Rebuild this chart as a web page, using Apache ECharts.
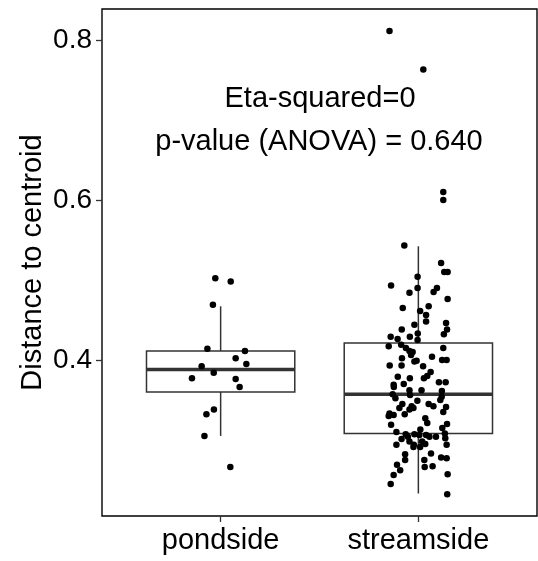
<!DOCTYPE html>
<html><head><meta charset="utf-8">
<script src="https://cdn.jsdelivr.net/npm/echarts@6/dist/echarts.min.js"></script>
<style>html,body{margin:0;padding:0;background:#fff}#c{width:538px;height:561px}</style>
</head><body><div id="c"></div>
<script>
const categories = ['pondside', 'streamside'];
const yTicks = [0.4, 0.6, 0.8];
const yTitle = 'Distance to centroid';
const annotationLines = ['Eta-squared=0', 'p-value (ANOVA) = 0.640'];

// box stats: [lower whisker, Q1, median, Q3, upper whisker]
const boxPondside = [0.306, 0.361, 0.389, 0.412, 0.468];
const boxStreamside = [0.234, 0.309, 0.358, 0.422, 0.543];

const pondsideValues = [0.503, 0.499, 0.470, 0.415, 0.412, 0.403, 0.396, 0.393, 0.385, 0.378, 0.377, 0.367, 0.339, 0.333, 0.306, 0.267];
const pondsideJitter = [-0.027, 0.051, -0.039, -0.067, 0.123, 0.076, 0.130, -0.096, -0.035, -0.145, 0.076, 0.096, -0.034, -0.072, -0.082, 0.049];

const streamsideValues = [
  0.812, 0.764, 0.611, 0.601, 0.544, 0.522, 0.511, 0.511, 0.505, 0.494,
  0.491, 0.485, 0.486, 0.491, 0.477, 0.466, 0.468, 0.462, 0.457, 0.449,
  0.447, 0.439, 0.433, 0.445, 0.439, 0.434, 0.430, 0.427, 0.430, 0.426,
  0.418, 0.420, 0.416, 0.412, 0.407, 0.411, 0.403, 0.399, 0.400, 0.405,
  0.416, 0.401, 0.401, 0.394, 0.394, 0.393, 0.380, 0.378, 0.378, 0.381,
  0.386, 0.373, 0.373, 0.370, 0.367, 0.371, 0.363, 0.357, 0.363, 0.362,
  0.355, 0.358, 0.353, 0.350, 0.351, 0.346, 0.341, 0.346, 0.343, 0.343,
  0.339, 0.341, 0.334, 0.332, 0.331, 0.333, 0.342, 0.336, 0.328, 0.322,
  0.320, 0.321, 0.311, 0.314, 0.307, 0.308, 0.305, 0.308, 0.307, 0.305,
  0.305, 0.316, 0.309, 0.303, 0.295, 0.302, 0.299, 0.295, 0.292, 0.299,
  0.296, 0.292, 0.295, 0.276, 0.267, 0.284, 0.268, 0.283, 0.276, 0.279,
  0.278, 0.270, 0.263, 0.257, 0.258, 0.246, 0.233
];
const streamsideJitter = [
  -0.146, 0.025, 0.126, 0.126, -0.071, 0.115, 0.131, 0.148, -0.004, -0.138,
  -0.004, -0.045, 0.077, 0.094, 0.148, -0.079, 0.052, 0.009, 0.039, 0.039,
  0.140, 0.145, 0.129, -0.020, -0.084, -0.003, -0.140, -0.105, -0.043, -0.004,
  -0.150, -0.087, -0.063, -0.045, -0.037, -0.029, -0.083, -0.020, -0.009, 0.069,
  0.126, 0.120, 0.143, -0.145, -0.085, 0.024, -0.104, -0.043, 0.028, 0.045,
  0.062, 0.104, 0.138, -0.125, -0.124, -0.074, -0.045, -0.042, 0.016, 0.119,
  0.118, -0.130, -0.116, -0.005, 0.111, -0.081, -0.096, 0.052, 0.076, -0.034,
  -0.045, -0.025, -0.146, -0.125, -0.150, -0.069, 0.140, 0.126, 0.035, 0.045,
  -0.138, 0.145, -0.111, 0.010, 0.005, -0.064, -0.053, -0.020, 0.039, 0.056,
  0.089, 0.121, 0.134, 0.136, -0.111, -0.085, -0.045, -0.023, -0.025, 0.019,
  0.035, 0.009, 0.143, 0.030, 0.032, 0.064, 0.072, -0.067, -0.067, 0.115,
  0.143, -0.108, -0.092, -0.125, 0.148, -0.140, 0.146
];

const FONT = "'Liberation Sans', Arial, sans-serif";
const boxData = [[1].concat(boxPondside), [2].concat(boxStreamside)];
const pointData = [];
pondsideValues.forEach((v, i) => pointData.push([1 + pondsideJitter[i], v]));
streamsideValues.forEach((v, i) => pointData.push([2 + streamsideJitter[i], v]));

const chart = echarts.init(document.getElementById('c'), null, {renderer: 'canvas'});
chart.setOption({
  animation: false,
  backgroundColor: '#fff',
  grid: {left: 102, right: 1, top: 9, bottom: 45, show: true, borderColor: '#000', borderWidth: 1.4, backgroundColor: 'transparent'},
  xAxis: {
    type: 'value', min: 0.4, max: 2.6,
    axisLine: {show: false},
    splitLine: {show: false},
    axisTick: {show: true, length: 6, customValues: [1, 2], lineStyle: {color: '#333', width: 1.3}},
    axisLabel: {customValues: [1, 2], formatter: v => categories[Math.round(v) - 1] || '', fontFamily: FONT, fontSize: 29, color: '#000', margin: 10}
  },
  yAxis: {
    type: 'value', min: 0.2059, max: 0.8396,
    axisLine: {show: false},
    splitLine: {show: false},
    axisTick: {show: true, length: 6, customValues: yTicks, lineStyle: {color: '#333', width: 1.3}},
    axisLabel: {customValues: yTicks, formatter: v => v.toFixed(1), fontFamily: FONT, fontSize: 28, color: '#000', margin: 10},
    name: yTitle, nameLocation: 'middle', nameRotate: 90, nameGap: 55, nameMoveOverlap: false,
    nameTextStyle: {fontFamily: FONT, fontSize: 29, color: '#000'}
  },
  series: [
    {
      type: 'custom',
      data: boxData,
      renderItem: function (params, api) {
        const x = api.value(0);
        const half = api.size([0.75, 0])[0] / 2;
        const pLow = api.coord([x, api.value(1)]);
        const pQ1 = api.coord([x, api.value(2)]);
        const pMed = api.coord([x, api.value(3)]);
        const pQ3 = api.coord([x, api.value(4)]);
        const pHigh = api.coord([x, api.value(5)]);
        const st = {stroke: '#333', lineWidth: 1.5, fill: null};
        return {type: 'group', children: [
          {type: 'line', shape: {x1: pQ3[0], y1: pHigh[1], x2: pQ3[0], y2: pQ3[1]}, style: st},
          {type: 'line', shape: {x1: pQ1[0], y1: pQ1[1], x2: pQ1[0], y2: pLow[1]}, style: st},
          {type: 'rect', shape: {x: pQ3[0] - half, y: pQ3[1], width: half * 2, height: pQ1[1] - pQ3[1]}, style: {stroke: '#333', lineWidth: 1.5, fill: '#fff'}},
          {type: 'line', shape: {x1: pMed[0] - half, y1: pMed[1], x2: pMed[0] + half, y2: pMed[1]}, style: {stroke: '#333', lineWidth: 3.4}}
        ]};
      },
      z: 2
    },
    {
      type: 'scatter',
      data: pointData,
      symbol: 'circle',
      symbolSize: 6.5,
      itemStyle: {color: '#000', opacity: 1},
      z: 3
    }
  ],
  graphic: [
    {type: 'text', x: 320, y: 99, style: {text: annotationLines[0], font: '29px ' + FONT, fill: '#000', align: 'center', verticalAlign: 'middle'}, z: 10},
    {type: 'text', x: 319, y: 142, style: {text: annotationLines[1], font: '29px ' + FONT, fill: '#000', align: 'center', verticalAlign: 'middle'}, z: 10}
  ]
});
</script>
</body></html>
